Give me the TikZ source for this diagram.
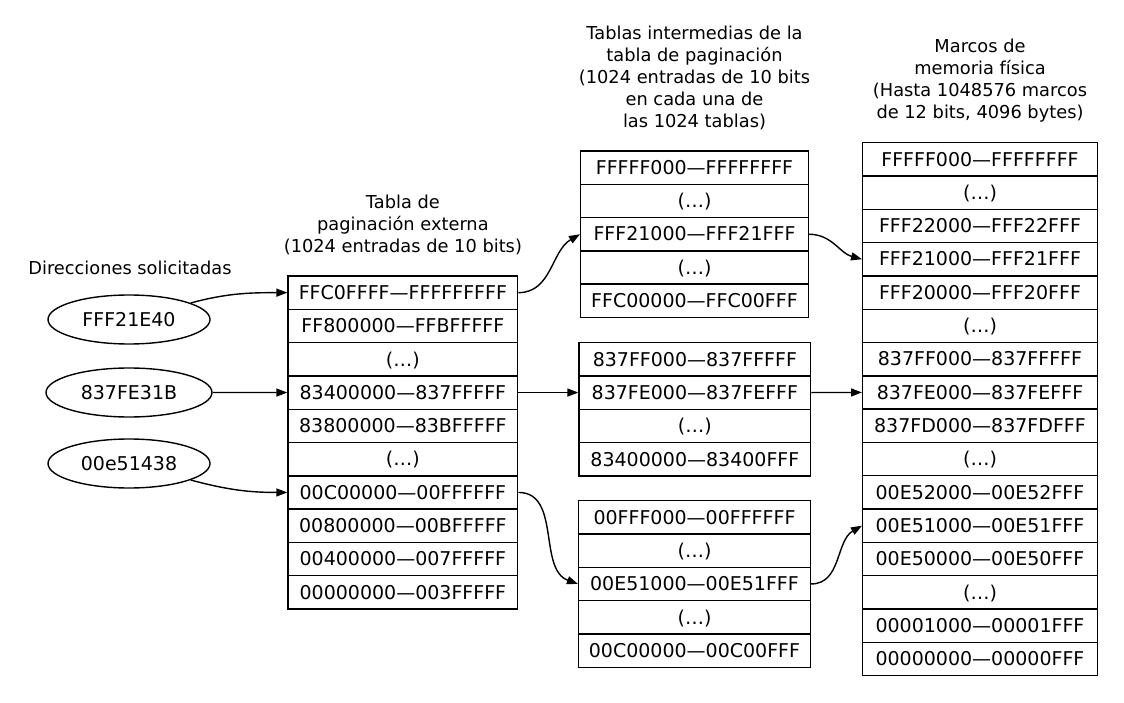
\documentclass[tikz,border=0pt]{standalone}
\usepackage{fontspec}
\setmainfont{DejaVu Sans}
\usetikzlibrary{shapes.geometric,arrows.meta}

\tikzset{
  every node/.style={font=\fontsize{17.8}{22}\selectfont},
  fila/.style={draw, line width=1.4pt, inner sep=0pt, minimum height=33.3,
    text height=13.5pt, text depth=0pt, font=\fontsize{19}{22}\selectfont},
  ext/.style={fila, minimum width=229.7},
  interA/.style={fila, minimum width=227.6},
  interB/.style={fila, minimum width=231.7},
  marco/.style={fila, minimum width=234.6},
  dir/.style={draw, ellipse, line width=1.4pt, inner sep=0pt,
    minimum width=162, minimum height=49, font=\fontsize{19}{22}\selectfont},
  titulo/.style={align=center},
  flecha/.style={line width=1.4pt, -{Triangle[length=11pt,width=8pt]}}
}

\begin{document}
\begin{tikzpicture}[x=1pt, y=-1pt]
  \useasboundingbox (0,0) rectangle (1124,703);

  % titulos
  \node[titulo] (tdir) at (130,267.8) {Direcciones solicitadas};
  \node[titulo] (text) at (402.9,224.8) {Tabla de\\paginación externa\\(1024 entradas de 10 bits)};
  \node[titulo] (tint) at (694.5,77.8) {Tablas intermedias de la\\tabla de paginación\\(1024 entradas de 10 bits\\en cada una de\\las 1024 tablas)};
  \node[titulo] (tmarco) at (980,80.8) {Marcos de\\memoria física\\(Hasta 1048576 marcos\\de 12 bits, 4096 bytes)};

  % direcciones
  \node[dir] (dir1) at (129,319.5) {FFF21E40};
  \node[dir, minimum width=166] (dir2) at (129,392.5) {837FE31B};
  \node[dir] (dir3) at (129,463.5) {00e51438};

  % tabla externa
  \node[ext] (ext1) at (402.9,292.65) {FFC0FFFF—FFFFFFFFF};
  \node[ext] (ext2) at (402.9,325.95) {FF800000—FFBFFFFF};
  \node[ext] (ext3) at (402.9,359.25) {(…)};
  \node[ext] (ext4) at (402.9,392.55) {83400000—837FFFFF};
  \node[ext] (ext5) at (402.9,425.85) {83800000—83BFFFFF};
  \node[ext] (ext6) at (402.9,459.15) {(…)};
  \node[ext] (ext7) at (402.9,492.45) {00C00000—00FFFFFF};
  \node[ext] (ext8) at (402.9,525.75) {00800000—00BFFFFF};
  \node[ext] (ext9) at (402.9,559.05) {00400000—007FFFFF};
  \node[ext] (ext10) at (402.9,592.35) {00000000—003FFFFF};

  % tablas intermedias
  \node[interA] (intA1) at (694.5,167.65) {FFFFF000—FFFFFFFF};
  \node[interA] (intA2) at (694.5,200.95) {(…)};
  \node[interA] (intA3) at (694.5,234.25) {FFF21000—FFF21FFF};
  \node[interA] (intA4) at (694.5,267.55) {(…)};
  \node[interA] (intA5) at (694.5,300.85) {FFC00000—FFC00FFF};

  \node[interB] (intB1) at (694.9,359.35) {837FF000—837FFFFF};
  \node[interB] (intB2) at (694.9,392.55) {837FE000—837FEFFF};
  \node[interB] (intB3) at (694.9,425.95) {(…)};
  \node[interB] (intB4) at (694.9,459.25) {83400000—83400FFF};

  \node[interB] (intC1) at (694.5,517.35) {00FFF000—00FFFFFF};
  \node[interB] (intC2) at (694.5,550.65) {(…)};
  \node[interB] (intC3) at (694.5,583.95) {00E51000—00E51FFF};
  \node[interB] (intC4) at (694.5,617.25) {(…)};
  \node[interB] (intC5) at (694.5,650.55) {00C00000—00C00FFF};

  % marcos de memoria
  \node[marco] (marco1) at (980,159.35) {FFFFF000—FFFFFFFF};
  \node[marco] (marco2) at (980,192.65) {(…)};
  \node[marco] (marco3) at (980,225.95) {FFF22000—FFF22FFF};
  \node[marco] (marco4) at (980,259.25) {FFF21000—FFF21FFF};
  \node[marco] (marco5) at (980,292.55) {FFF20000—FFF20FFF};
  \node[marco] (marco6) at (980,325.85) {(…)};
  \node[marco] (marco7) at (980,359.15) {837FF000—837FFFFF};
  \node[marco] (marco8) at (980,392.45) {837FE000—837FEFFF};
  \node[marco] (marco9) at (980,425.75) {837FD000—837FDFFF};
  \node[marco] (marco10) at (980,459.05) {(…)};
  \node[marco] (marco11) at (980,492.35) {00E52000—00E52FFF};
  \node[marco] (marco12) at (980,525.65) {00E51000—00E51FFF};
  \node[marco] (marco13) at (980,558.95) {00E50000—00E50FFF};
  \node[marco] (marco14) at (980,592.25) {(…)};
  \node[marco] (marco15) at (980,625.55) {00001000—00001FFF};
  \node[marco] (marco16) at (980,658.85) {00000000—00000FFF};

  % flechas
  \draw[flecha] (dir1) to[out=15,in=180] (ext1.west);
  \draw[flecha] (dir2) -- (ext4.west);
  \draw[flecha] (dir3) to[out=-15,in=180] (ext7.west);

  \draw[flecha] (ext1.east) to[out=0,in=210] (intA3.west);
  \draw[flecha] (ext4.east) -- (intB2.west);
  \draw[flecha] (ext7.east) to[out=0,in=160] (intC3.west);

  \draw[flecha] (intA3.east) to[out=0,in=165] (marco4.west);
  \draw[flecha] (intB2.east) -- (marco8.west);
  \draw[flecha] (intC3.east) to[out=0,in=210] (marco12.west);
\end{tikzpicture}
\end{document}
